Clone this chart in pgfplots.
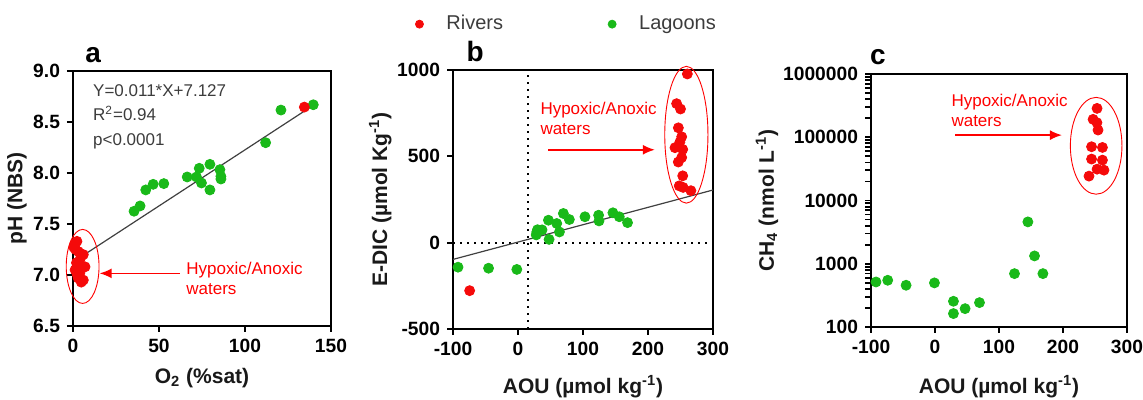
\documentclass[border=0pt]{standalone}
\usepackage{pgfplots}
\pgfplotsset{compat=1.18}
\usepackage{fontspec}
\setmainfont{Liberation Sans}
\usetikzlibrary{arrows.meta}

\definecolor{riv}{RGB}{245,10,10}
\definecolor{lag}{RGB}{25,185,25}
\definecolor{txt}{RGB}{60,60,60}

\pgfplotsset{
  panel/.style={
    scale only axis,
    anchor=south west,
    clip=false,
    axis line style={line width=1pt},
    tick align=outside,
    xtick pos=bottom, ytick pos=left,
    major tick length=3pt,
    tick style={line width=0.9pt, black},
    tick label style={font=\fontsize{9.6}{11}\selectfont\bfseries},
    label style={font=\fontsize{10.5}{12}\selectfont\bfseries, text=black!90},
    /pgf/number format/assume math mode=true,
  },
  riv/.style={only marks, mark=*, mark size=2.5pt, mark options={draw=riv, fill=riv}},
  lag/.style={only marks, mark=*, mark size=2.5pt, mark options={draw=lag, fill=lag}},
}
\tikzset{
  note/.style={text=red, font=\fontsize{8.5}{10}\selectfont, align=left, anchor=west, inner sep=0pt},
}

\begin{document}
\begin{tikzpicture}
\useasboundingbox (0,0) rectangle (571.5pt,200pt);

% ---------------- a ----------------
\begin{axis}[panel,
  at={(36.5pt,37pt)}, width=129pt, height=127.5pt,
  xmin=0, xmax=150, ymin=6.5, ymax=9.0,
  xtick={0,50,100,150},
  ytick={6.5,7.0,7.5,8.0,8.5,9.0},
  yticklabels={6.5,7.0,7.5,8.0,8.5,9.0},
  xlabel={O\textsubscript{2} (\%sat)},
  ylabel={pH (NBS)},
  x label style={at={(axis description cs:0.5,-0.204)}, anchor=center},
  y label style={at={(axis description cs:-0.217,0.5)}, anchor=center},
]
\addplot[black!75, line width=0.6pt] coordinates {(0,7.127)(140,8.667)};
\addplot[lag] coordinates {
  (35.5,7.625)(39.0,7.677)(42.3,7.834)(46.6,7.889)(52.8,7.896)
  (66.4,7.961)(71.8,7.961)(73.4,8.046)(74.7,7.902)(79.6,8.085)
  (79.6,7.834)(85.4,8.033)(86.0,7.967)(86.0,7.941)(112,8.297)
  (120.9,8.617)(139.7,8.669)
};
\addplot[riv] coordinates {
  (134.5,8.646)
  (1.2,7.31)(2.3,7.33)(0.5,7.27)(1.5,7.25)(3.1,7.23)(6.0,7.20)
  (4.5,7.17)(4.0,7.11)(2.0,7.12)(7.0,7.08)(1.2,7.05)(4.0,7.02)
  (2.5,7.00)(6.0,6.95)(3.0,6.97)(4.8,6.93)
};
\draw[red, line width=0.45pt] (axis cs:5.6,7.084) ellipse [x radius=8.2pt, y radius=18.5pt];
\draw[red, line width=0.8pt, -{Latex[length=6pt,width=5pt]}] (axis cs:62.1,7.016) -- (axis cs:15.5,7.016);
\node[note] at (axis cs:65.7,6.97) {Hypoxic/Anoxic\\waters};
\node[anchor=west, inner sep=0pt, align=left, text=txt,
      font=\fontsize{8.5}{12.25}\selectfont] at (axis cs:11.5,8.555)
      {Y=0.011*X+7.127\\R\textsuperscript{2}=0.94\\p\textless0.0001};
\node[font=\fontsize{14}{14}\selectfont\bfseries] at (rel axis cs:0.078,1.063) {a};
\end{axis}

% ---------------- b ----------------
\begin{axis}[panel,
  at={(226.5pt,35.5pt)}, width=130pt, height=129.5pt,
  xmin=-100, xmax=300, ymin=-500, ymax=1000,
  xtick={-100,0,100,200,300},
  xticklabels={-100,0,100,200,300},
  ytick={-500,0,500,1000},
  yticklabels={-500,0,500,1000},
  xlabel={AOU (µmol kg\textsuperscript{-1})},
  ylabel={E-DIC (µmol Kg\textsuperscript{-1})},
  x label style={at={(axis description cs:0.5,-0.224)}, anchor=center},
  y label style={at={(axis description cs:-0.28,0.5)}, anchor=center},
  legend columns=2,
  legend cell align=left,
  legend image code/.code={%
    \path[draw=none, fill=none] (-2pt,0pt) rectangle (11.5pt,0.1pt);
    \draw[#1, mark size=2pt] plot coordinates {(0pt,0pt)};},
  legend style={draw=none, fill=none, at={(axis description cs:-0.169,1.177)}, anchor=west,
    font=\fontsize{10}{12}\selectfont, text=txt,
    /tikz/every even column/.append style={column sep=50.5pt}},
]
\addplot[black, line width=1pt, dash pattern=on 1.1pt off 2.4pt, forget plot] coordinates {(-100,0)(300,0)};
\addplot[black, line width=1pt, dash pattern=on 1.1pt off 2.4pt, forget plot] coordinates {(15,-500)(15,1000)};
\addplot[black!75, line width=0.6pt, forget plot] coordinates {(-100,-97)(300,305)};
\addplot[riv] coordinates {
  (-74.4,-278)(260.5,977)(244,805)(250,774)(246.7,665)(251.8,613)
  (249,582)(241.5,550)(253.4,540)(251.8,493)(246.6,467)(253.4,387)
  (248,329)(254,320)(266,301)
};
\addlegendentry{Rivers}
\addplot[lag] coordinates {
  (-92.3,-142)(-45.3,-148)(-1.8,-155)
  (28.9,62)(28,45)(30,75)(37,74)(46.8,130)(47.8,19)(59.6,111)
  (63.7,62)(69.8,169)(79,134)(103,150)(124,159)(124.6,126)
  (146,173)(155.8,150)(168.5,116)
};
\addlegendentry{Lagoons}
\draw[red, line width=0.45pt] (axis cs:259,625) ellipse [x radius=10.8pt, y radius=34.2pt];
\draw[red, line width=0.8pt, -{Latex[length=6pt,width=5pt]}] (axis cs:46.8,538) -- (axis cs:210.5,538);
\node[note] at (axis cs:34,722) {Hypoxic/Anoxic\\waters};
\node[font=\fontsize{14}{14}\selectfont\bfseries] at (rel axis cs:0.085,1.07) {b};
\end{axis}

% ---------------- c ----------------
\begin{axis}[panel,
  at={(435.5pt,36.5pt)}, width=128pt, height=126.5pt,
  ymode=log,
  xmin=-100, xmax=300, ymin=100, ymax=1000000,
  xtick={-100,0,100,200,300},
  xticklabels={-100,0,100,200,300},
  ytick={100,1000,10000,100000,1000000},
  yticklabels={100,1000,10000,100000,1000000},
  extra y ticks={200,300,400,500,600,700,800,900,
    2000,3000,4000,5000,6000,7000,8000,9000,
    20000,30000,40000,50000,60000,70000,80000,90000,
    200000,300000,400000,500000,600000,700000,800000,900000},
  extra y tick labels={},
  extra y tick style={major tick length=2pt, tick style={line width=0.7pt, black}},
  xlabel={AOU (µmol kg\textsuperscript{-1})},
  ylabel={CH\textsubscript{4} (nmol L\textsuperscript{-1})},
  x label style={at={(axis description cs:0.5,-0.237)}, anchor=center},
  y label style={at={(axis description cs:-0.406,0.5)}, anchor=center},
]
\addplot[lag] coordinates {
  (-92.2,515)(-73.9,548)(-45.2,457)(-0.9,498)(28.8,255)(28.8,163)
  (47,195)(69.5,243)(124.2,698)(145.1,4590)(155.5,1330)(168.6,698)
};
\addplot[riv] coordinates {
  (253.2,286000)(247,192000)(253,170000)(254.7,130000)(244.6,70800)
  (261.6,69000)(244.6,45200)(261.6,43500)(253.2,31300)(264,30200)
  (240.6,24300)
};
\draw[red, line width=0.45pt] (axis cs:251.8,73300) ellipse [x radius=12.9pt, y radius=24.2pt];
\draw[red, line width=0.8pt, -{Latex[length=6pt,width=5pt]}] (axis cs:31.4,108000) -- (axis cs:198.3,108000);
\node[note] at (axis cs:25.2,270000) {Hypoxic/Anoxic\\waters};
\node[font=\fontsize{14}{14}\selectfont\bfseries] at (rel axis cs:0.027,1.067) {c};
\end{axis}
\end{tikzpicture}
\end{document}
